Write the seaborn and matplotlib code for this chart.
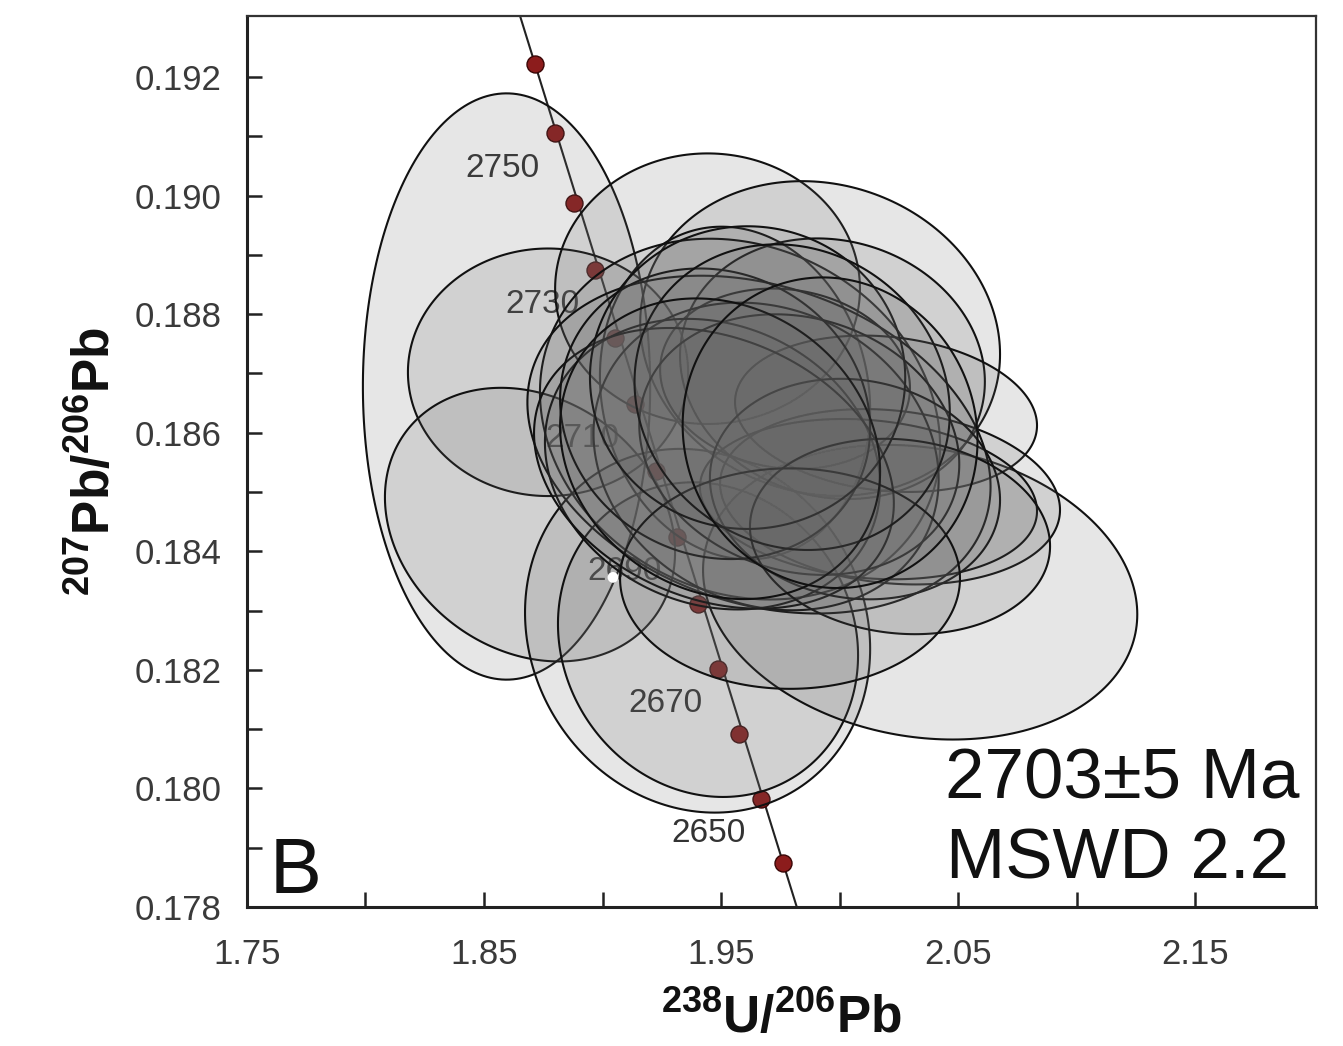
import numpy as np
import pandas as pd
import matplotlib
matplotlib.use("Agg")
import matplotlib.pyplot as plt
import seaborn as sns
from matplotlib.patches import Polygon
from matplotlib.ticker import FixedLocator

# ---------------- data ----------------
# concordia ages (Ma) and their positions
conc_age = [2760, 2750, 2740, 2730, 2720, 2710, 2700, 2690, 2680, 2670, 2660, 2650, 2640]
conc_x = [1.8715, 1.8800, 1.8880, 1.8968, 1.9053, 1.9137, 1.9226,
          1.9314, 1.9403, 1.9487, 1.9576, 1.9669, 1.9762]
conc_y = [0.19222, 0.19105, 0.18988, 0.18875, 0.18759, 0.18649, 0.18535,
          0.18424, 0.18311, 0.18201, 0.18091, 0.17983, 0.17874]
label_ages = [2750, 2730, 2710, 2690, 2670, 2650]

# analyses: centre, 2-sigma half extents and error correlation
ell_x = [1.8595, 1.8770, 1.8694, 1.9401, 1.9445, 2.0340, 1.9443, 1.9918,
         1.9559, 1.9580, 1.9970, 1.9770, 2.0196, 2.0213, 2.0122, 1.9660,
         1.9690, 1.9464, 1.9830, 2.0065, 1.9470, 1.9475, 2.0255, 1.9791,
         1.9612, 1.9800, 1.9496, 1.9960]
ell_y = [0.18678, 0.18702, 0.18445, 0.18266, 0.18251, 0.18331, 0.18843, 0.18759,
         0.18667, 0.18623, 0.18708, 0.18691, 0.18632, 0.18492, 0.18488, 0.18580,
         0.18560, 0.18547, 0.18580, 0.18505, 0.18540, 0.18632, 0.18425, 0.18354,
         0.18693, 0.18660, 0.18573, 0.18600]
ell_sx = [0.0606, 0.0591, 0.0612, 0.0728, 0.0633, 0.0916, 0.0643, 0.0759,
          0.0570, 0.0844, 0.0643, 0.0527, 0.0637, 0.0717, 0.0711, 0.0977,
          0.0728, 0.0707, 0.0675, 0.0612, 0.0759, 0.0654, 0.0633, 0.0717,
          0.0665, 0.0665, 0.0675, 0.0622]
ell_sy = [0.004945, 0.002088, 0.002308, 0.003068, 0.002654, 0.002485, 0.002282, 0.002654,
          0.002806, 0.003043, 0.002198, 0.001522, 0.001319, 0.001479, 0.001352, 0.002849,
          0.002595, 0.002451, 0.002198, 0.001860, 0.002367, 0.002451, 0.001648, 0.001860,
          0.002553, 0.002578, 0.002536, 0.002620]
ell_rho = [0.00, 0.00, -0.20, -0.10, -0.10, -0.15, 0.00, -0.10,
           -0.10, -0.15, -0.10, -0.10, -0.15, -0.15, -0.15, -0.25,
           -0.15, -0.15, -0.15, -0.10, -0.25, -0.10, -0.10, 0.00,
           0.00, -0.10, -0.15, -0.05]

# weighted mean point
mean_x = [1.9044]
mean_y = [0.18356]

x_ticks = [1.75, 1.85, 1.95, 2.05, 2.15]
x_minor = [1.80, 1.90, 2.00, 2.10]
y_ticks = [0.178, 0.180, 0.182, 0.184, 0.186, 0.188, 0.190, 0.192]
y_minor = [0.179, 0.181, 0.183, 0.185, 0.187, 0.189, 0.191]

age_text = "2703±5 Ma"
mswd_text = "MSWD 2.2"
panel = "B"

# ---------------- plotting ----------------
sns.set_theme(style="white")
plt.rcParams["font.family"] = ["Liberation Sans", "DejaVu Sans"]
plt.rcParams["mathtext.fontset"] = "custom"
plt.rcParams["mathtext.rm"] = "Liberation Sans"
plt.rcParams["mathtext.bf"] = "Liberation Sans:bold"

fig = plt.figure(figsize=(13.43, 10.46), dpi=100)
ax = fig.add_axes([0.1839, 0.1329, 0.7960, 0.8518])
ax.set_xlim(1.75, 2.201)
ax.set_ylim(0.178, 0.19303)

conc = pd.DataFrame({"age": conc_age, "x": conc_x, "y": conc_y})

# concordia line (extended across the axes)
ax.axline((conc_x[0], conc_y[0]), (conc_x[-1], conc_y[-1]),
          color="#222222", lw=1.5, zorder=1)
sns.scatterplot(data=conc, x="x", y="y", ax=ax, s=150, color="#8c1c1c",
                edgecolor="#3a0606", linewidth=1.0, zorder=2, legend=False)

for a in label_ages:
    r = conc[conc.age == a].iloc[0]
    ax.annotate(str(a), (r.x, r.y), xytext=(-38, -25), textcoords="offset points",
                ha="center", va="center", fontsize=24, color="#333333", zorder=2)

# error ellipses
t = np.linspace(0, 2 * np.pi, 240)
for cx, cy, sx, sy, rho in zip(ell_x, ell_y, ell_sx, ell_sy, ell_rho):
    px = cx + sx * np.cos(t)
    py = cy + sy * (rho * np.cos(t) + np.sqrt(1 - rho ** 2) * np.sin(t))
    poly = Polygon(np.column_stack([px, py]), closed=True,
                   facecolor=(0.40, 0.40, 0.40, 0.16),
                   edgecolor="#111111", linewidth=1.5, zorder=3)
    ax.add_patch(poly)

sns.scatterplot(x=mean_x, y=mean_y, ax=ax, s=60, color="white",
                edgecolor="none", zorder=5, legend=False)

# text
ax.text(0.985, 0.142, age_text, transform=ax.transAxes, ha="right", va="center",
        fontsize=51, color="#111111", zorder=6)
ax.text(0.975, 0.052, mswd_text, transform=ax.transAxes, ha="right", va="center",
        fontsize=51, color="#111111", zorder=6)
ax.text(0.021, 0.016, panel, transform=ax.transAxes, ha="left", va="baseline",
        fontsize=56, color="#111111", zorder=6)

# axes styling
ax.xaxis.set_major_locator(FixedLocator(x_ticks))
ax.xaxis.set_minor_locator(FixedLocator(x_minor))
ax.yaxis.set_major_locator(FixedLocator(y_ticks))
ax.yaxis.set_minor_locator(FixedLocator(y_minor))
ax.set_xticklabels([f"{v:.2f}" for v in x_ticks])
ax.set_yticklabels([f"{v:.3f}" for v in y_ticks])
ax.tick_params(which="both", direction="in", length=11, width=1.8, color="#222222",
               top=False, right=False, bottom=True, left=True)
ax.tick_params(axis="both", which="major", labelsize=25, labelcolor="#3a3a3a")
ax.tick_params(axis="x", which="major", pad=22)
ax.tick_params(axis="y", which="major", pad=18)

for side in ["left", "bottom"]:
    ax.spines[side].set_linewidth(2.2)
    ax.spines[side].set_color("#222222")
for side in ["top", "right"]:
    ax.spines[side].set_linewidth(1.6)
    ax.spines[side].set_color("#333333")

ax.set_xlabel(r"$\mathbf{^{238}U/^{206}Pb}$", fontsize=37, color="#111111", labelpad=16)
ax.set_ylabel(r"$\mathbf{^{207}Pb/^{206}Pb}$", fontsize=37, color="#111111", labelpad=10)

fig.savefig("out.png", dpi=100, facecolor="white")
